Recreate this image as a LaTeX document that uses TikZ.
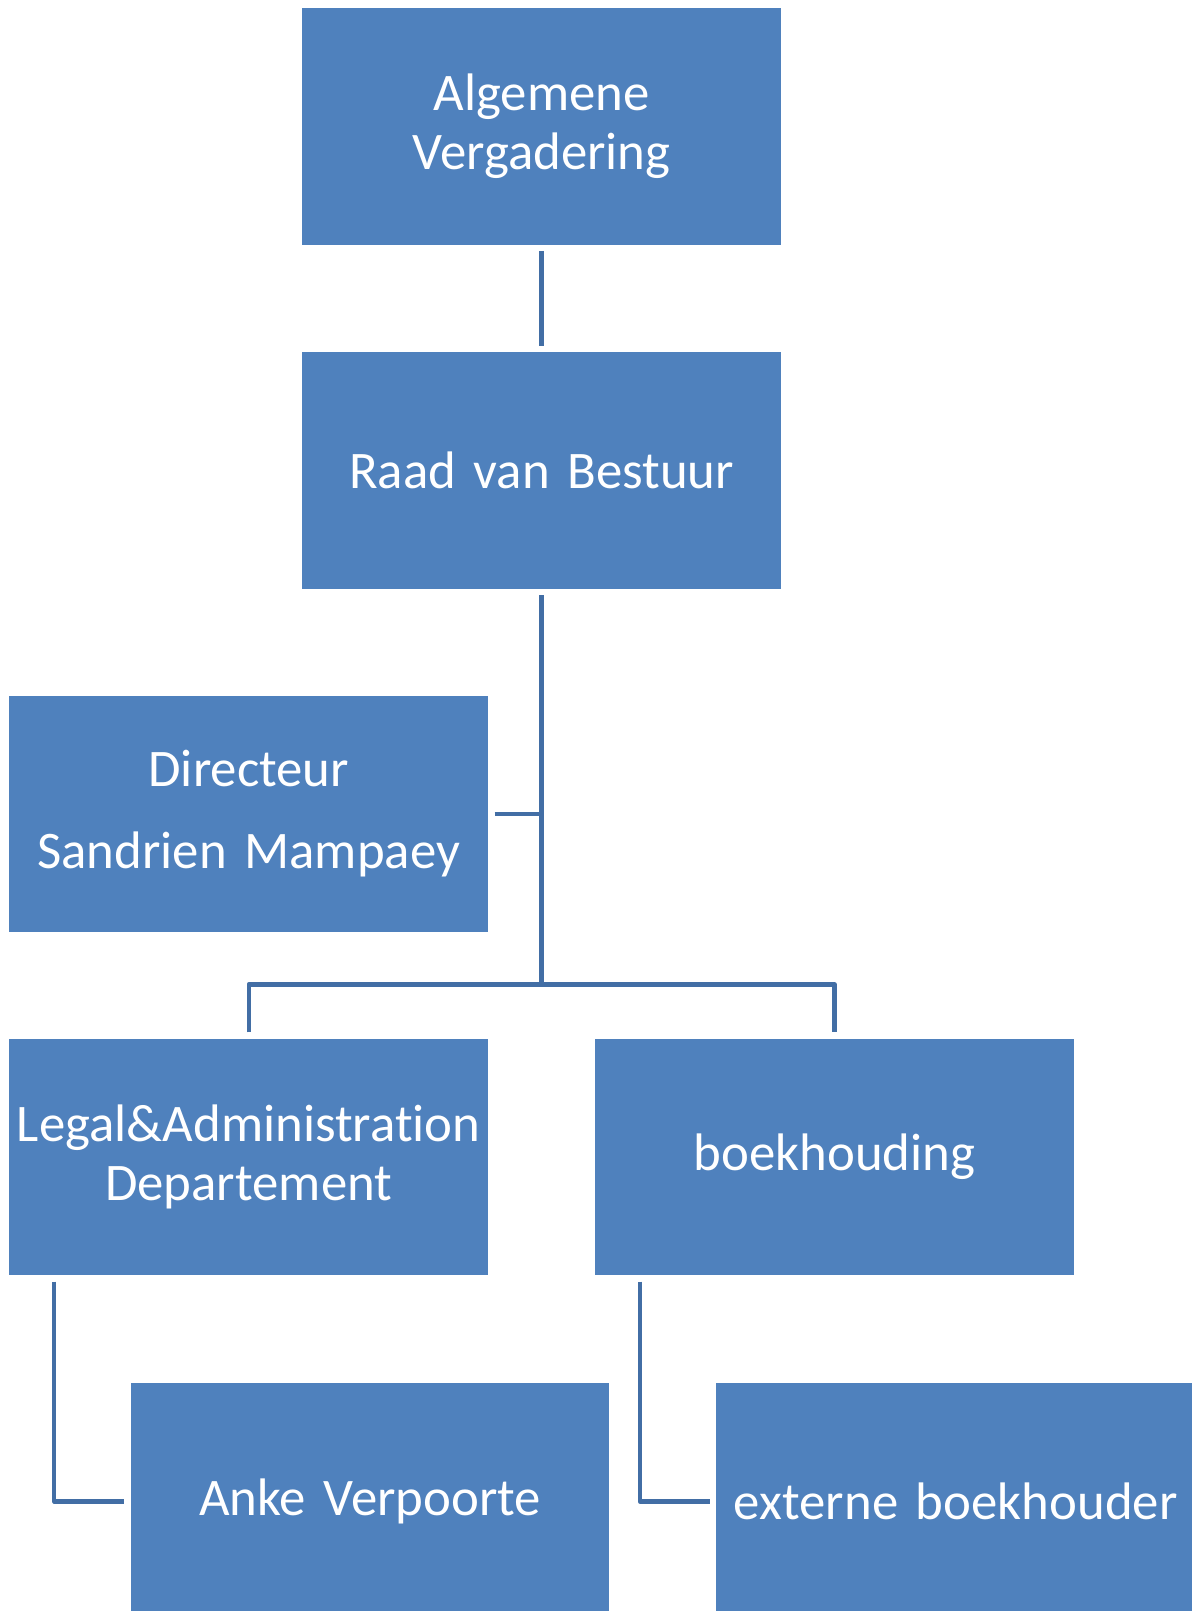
\documentclass[tikz,border=0pt]{standalone}
\usepackage{fontspec}
\setmainfont[Ligatures=NoCommon,WordSpace=0.85]{Carlito}
\definecolor{boxblue}{RGB}{79,129,189}
\definecolor{lineblue}{RGB}{66,110,165}
\begin{document}
\begin{tikzpicture}[x=0.5pt,y=-0.5pt,
 box/.style={fill=boxblue, draw=none, minimum width=239.45pt, minimum height=118.15pt,
   inner sep=0pt, text=white, font=\fontsize{26.4}{29.3}\selectfont, align=center, text width=239pt},
 conn/.style={draw=lineblue, line width=2.2pt, line join=round}]
\useasboundingbox (0,0) rectangle (1192,1611);
\clip (0,0) rectangle (1192,1611);
\node[box] (ag) at (541.6,126.4) {\raisebox{-1.5pt}{\parbox{239pt}{\centering Algemene\\Vergadering}}};
\node[box] (rvb) at (541.6,470.6) {Raad van Bestuur};
\node[box] (dir) at (248.7,813.9) {\raisebox{-1.5pt}{\parbox{239pt}{\centering Directeur\\[11.7pt]Sandrien Mampaey}}};
\node[box] (legal) at (248.7,1157.0) {\raisebox{-1.5pt}{\parbox{239pt}{\centering Legal\&Administration\\Departement}}};
\node[box] (boek) at (834.5,1157.0) {boekhouding};
\node[box] (anke) at (370.0,1501.3) {Anke Verpoorte};
\node[box] (ext) at (955.7,1501.3) {externe boekhouder};
\coordinate (bar) at (541.6,984.4);
\draw[conn] ([yshift=-3pt]ag.south) -- ([yshift=3pt]rvb.north);
\draw[conn] ([yshift=-3pt]rvb.south) -- (bar);
\draw[conn] ([xshift=3pt]dir.east) -- (dir.east -| bar);
\draw[conn] ([yshift=3pt]legal.north) -- (legal.north |- bar) -- (boek.north |- bar) -- ([yshift=3pt]boek.north);
\draw[conn] ([shift={(22.6pt,-3pt)}]legal.south west) |- ([xshift=-3pt]anke.west);
\draw[conn] ([shift={(22.6pt,-3pt)}]boek.south west) |- ([xshift=-3pt]ext.west);
\end{tikzpicture}
\end{document}
